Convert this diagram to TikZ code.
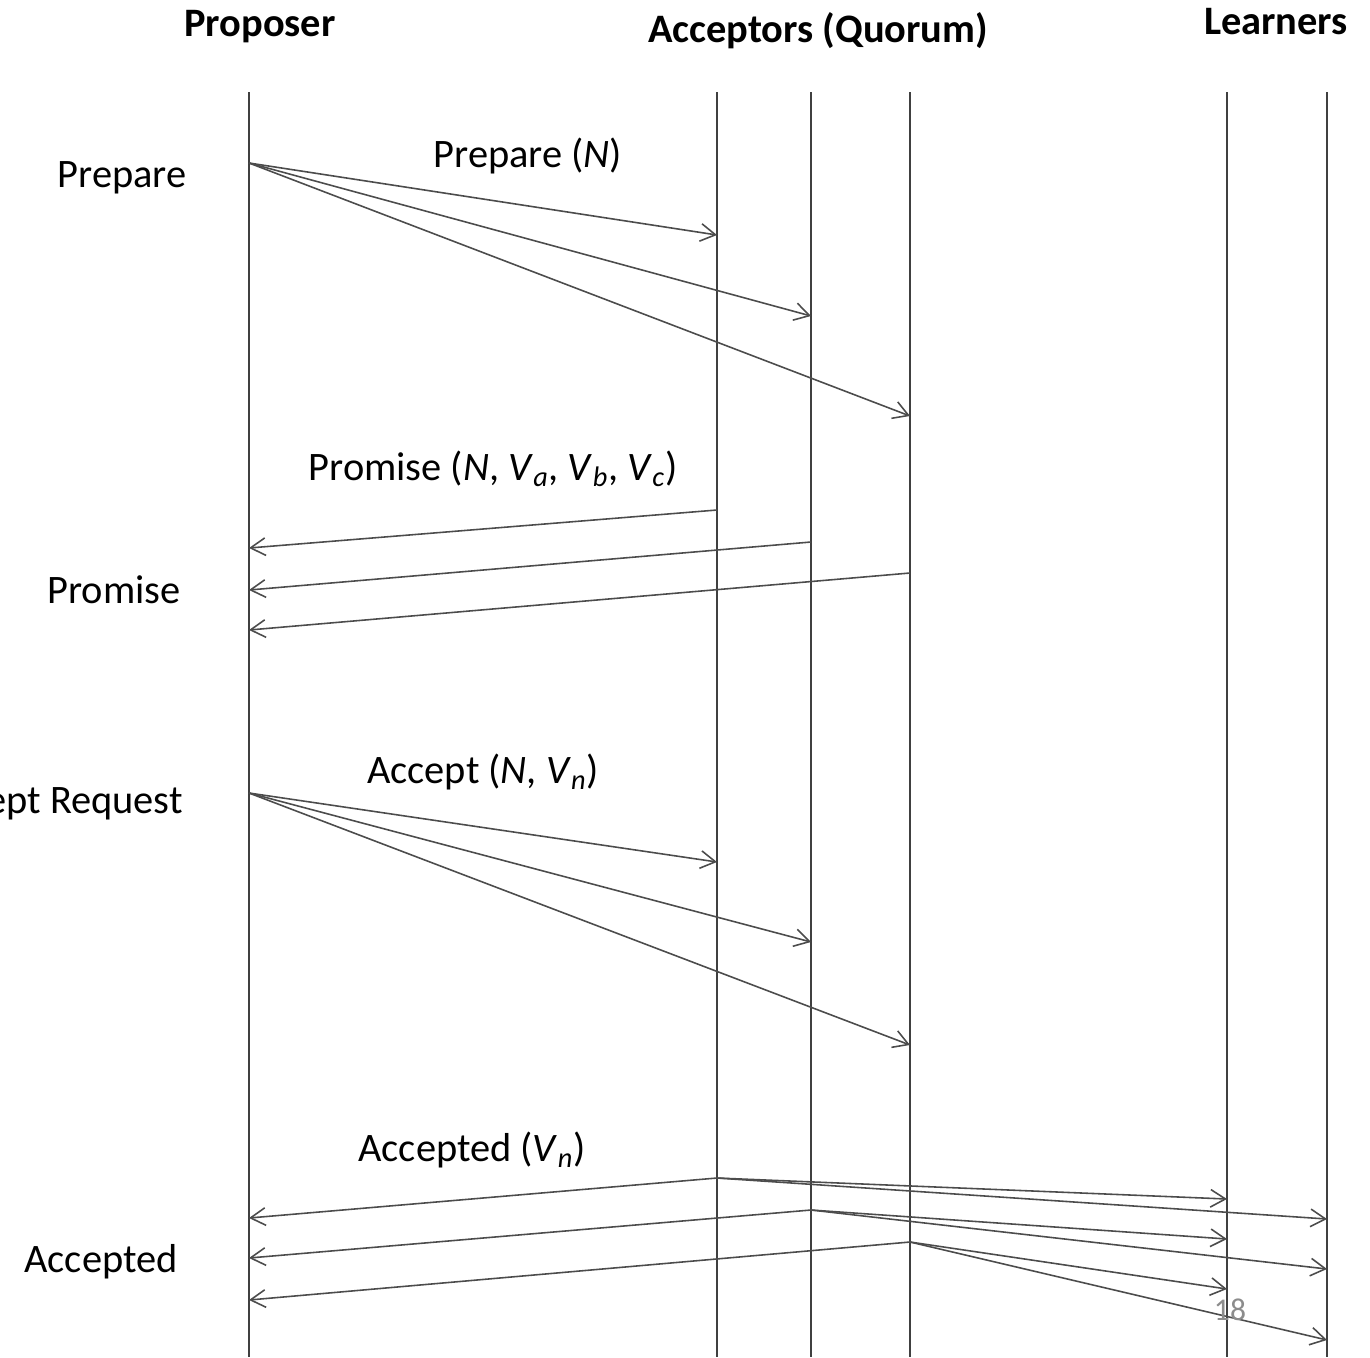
\documentclass[tikz,border=0pt]{standalone}
\usepackage{fontspec}
\setmainfont{Carlito}
\usetikzlibrary{arrows.meta}
\tikzset{
  life/.style={draw=black!75, line width=1.1pt},
  msg/.style={draw=black!70, line width=0.9pt, -{Straight Barb[length=8.5pt, width=10pt]}},
  head/.style={anchor=base, font=\fontsize{23}{27}\selectfont\bfseries},
  phase/.style={anchor=base, font=\fontsize{23}{27}\selectfont},
}
\newcommand{\vsub}[1]{\textit{V}\textsubscript{\textit{#1}}}
\begin{document}
\begin{tikzpicture}[x=0.02cm, y=-0.02cm]
  \useasboundingbox (0,0) rectangle (1370,1357);
  \clip (0,0) rectangle (1370,1357);
  % lifelines
  \foreach \n/\x in {P/249, A1/717, A2/811, A3/910, L1/1227, L2/1327}{
    \coordinate (\n) at (\x,92);
    \coordinate (\n end) at (\x,1357);
    \draw[life] (\n) -- (\n end);
  }
  \node[head] (proposer) at (260,36) {Proposer};
  \node[head] (acceptors) at (818,42) {Acceptors (Quorum)};
  \node[head] (learners) at (1276,34) {Learners};
  % phase names
  \node[phase] (prepare) at (122,187) {Prepare};
  \node[phase] (promise) at (114,603) {Promise};
  \node[phase, anchor=base east] (acceptreq) at (189,813) {Accept Request};
  \node[phase] (accepted) at (101,1272) {Accepted};
  % prepare
  \node[phase] (preparemsg) at (528,167) {Prepare (\textit{N})};
  \coordinate (prepP) at (249,163);
  \foreach \n/\y in {A1/235, A2/316, A3/416}{
    \coordinate (prep\n) at (\n |- 0,\y);
    \draw[msg] (prepP) -- (prep\n);
  }
  % promise
  \node[phase] (promisemsg) at (493,480) {Promise (\textit{N}, \vsub{a}, \vsub{b}, \vsub{c})};
  \foreach \n/\ya/\yb in {A1/510/548, A2/542/590, A3/573/630}{
    \coordinate (prom\n) at (\n |- 0,\ya);
    \coordinate (promP\n) at (P |- 0,\yb);
    \draw[msg] (prom\n) -- (promP\n);
  }
  % accept
  \node[phase] (acceptmsg) at (483,783) {Accept (\textit{N}, \vsub{n})};
  \coordinate (accP) at (249,793);
  \foreach \n/\y in {A1/862, A2/942, A3/1045}{
    \coordinate (acc\n) at (\n |- 0,\y);
    \draw[msg] (accP) -- (acc\n);
  }
  % accepted
  \node[phase] (acceptedmsg) at (472,1161) {Accepted (\vsub{n})};
  \foreach \n/\ya/\yb/\yc/\yd in {A1/1178/1218/1199/1219, A2/1210/1258/1239/1269, A3/1242/1300/1289/1340}{
    \coordinate (acd\n) at (\n |- 0,\ya);
    \coordinate (acdP\n) at (P |- 0,\yb);
    \coordinate (acdL1\n) at (L1 |- 0,\yc);
    \coordinate (acdL2\n) at (L2 |- 0,\yd);
    \draw[msg] (acd\n) -- (acdP\n);
    \draw[msg] (acd\n) -- (acdL1\n);
    \draw[msg] (acd\n) -- (acdL2\n);
  }
  \node[text=black!45, font=\fontsize{18}{20}\selectfont] (pagenum) at (1230,1310) {18};
\end{tikzpicture}
\end{document}
